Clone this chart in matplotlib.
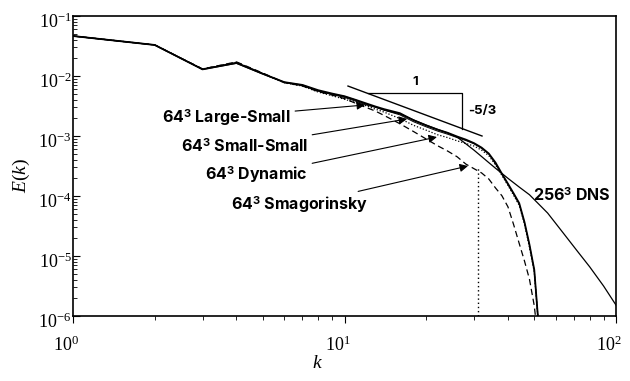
import matplotlib
matplotlib.use("Agg")
import matplotlib.pyplot as plt
from matplotlib.transforms import ScaledTranslation

plt.rcParams['mathtext.fontset'] = 'custom'
plt.rcParams['mathtext.rm'] = 'Liberation Serif'
plt.rcParams['mathtext.it'] = 'Liberation Serif:italic'
plt.rcParams['mathtext.bf'] = 'Inter:bold'
plt.rcParams['font.family'] = ['Inter', 'DejaVu Sans']

# wavenumbers and spectra
k_dns = [1, 2, 3, 4, 5, 6, 7, 8, 9, 10, 11, 12, 13, 14, 16, 18, 20, 22, 24, 26, 28, 30,
         32, 34, 36, 40, 44, 48, 56, 64, 72, 80, 90, 100]
E_dns = [0.0464, 0.0329, 0.0129, 0.0163, 0.0108, 0.00785, 0.00703, 0.00569, 0.00501, 0.00455,
         0.00395, 0.00341, 0.00305, 0.00270, 0.00233, 0.00185, 0.00152, 0.00129, 0.00112, 0.00096,
         0.00074, 0.00058, 0.000454, 0.000360, 0.000290, 0.000197, 0.000141, 0.000105, 5.2e-5,
         2.4e-5, 1.21e-5, 6.6e-6, 3.16e-6, 1.52e-6]

k_les = [1, 2, 3, 4, 5, 6, 7, 8, 9, 10, 11, 12, 13, 14, 16, 18, 20, 22, 24, 26, 28, 30,
         32, 34, 36, 38, 40, 42, 44, 46, 48, 50, 52]
E_large_small = [0.0464, 0.0329, 0.0129, 0.0165, 0.0109, 0.0079, 0.0071, 0.0058, 0.0051, 0.0046,
                 0.0040, 0.0035, 0.0031, 0.0028, 0.00240, 0.00182, 0.00150, 0.00128, 0.00113, 0.00098,
                 0.00087, 0.00076, 0.00064, 0.00051, 0.00036, 0.000235, 0.000160, 0.000110, 7.6e-5,
                 3.7e-5, 1.55e-5, 5.9e-6, 6e-7]
E_small_small = [0.0464, 0.0329, 0.0130, 0.0168, 0.0110, 0.0078, 0.0069, 0.0056, 0.0049, 0.0044,
                 0.0038, 0.0033, 0.0030, 0.0027, 0.00225, 0.00172, 0.00142, 0.00121, 0.00107, 0.00094,
                 0.00084, 0.00074, 0.00062, 0.00050, 0.00034, 0.00023, 0.000155, 0.000107, 7.3e-5,
                 3.6e-5, 1.5e-5, 5.7e-6, 6e-7]
E_dynamic = [0.0464, 0.0329, 0.0131, 0.0170, 0.0110, 0.0077, 0.0068, 0.0054, 0.0047, 0.0041,
             0.0036, 0.0032, 0.0028, 0.0025, 0.00195, 0.00150, 0.00125, 0.00105, 0.00094, 0.00083,
             0.00075, 0.00068, 0.00058, 0.00047, 0.00033, 0.00022, 0.000150, 0.000102, 7.0e-5,
             3.4e-5, 1.4e-5, 5.4e-6, 6e-7]
E_smag = [0.0464, 0.0330, 0.0131, 0.0172, 0.0112, 0.0078, 0.0068, 0.0055, 0.0048, 0.0042,
          0.0035, 0.0030, 0.0026, 0.0022, 0.00160, 0.00118, 0.00089, 0.00069, 0.00056, 0.00045,
          0.00034, 0.000285, 0.000242, 0.000192, 0.000136, 0.000101, 6.6e-5, 3.3e-5, 1.62e-5,
          8.3e-6, 4.1e-6, 1.48e-6, 3e-7]

k_cut = 31
E_cut_top = 3.2e-4

slope_k = [10.3, 32.1]
slope_E = [6.8e-3, 1.0e-3]
tri_k = [12.2, 27.1, 27.1]
tri_E = [5.2e-3, 5.2e-3, 1.33e-3]

ytick_vals = [1e-6, 1e-5, 1e-4, 1e-3, 1e-2, 1e-1]
ytick_labels = [r'$10^{-6}$', r'$10^{-5}$', r'$10^{-4}$', r'$10^{-3}$', r'$10^{-2}$', r'$10^{-1}$']
xtick_vals = [1, 10, 100]
xtick_labels = [r'$10^{0}$', r'$10^{1}$', r'$10^{2}$']

fig = plt.figure(figsize=(6.3, 3.81), dpi=100)
ax = fig.add_axes([73/630, 1-316/381, 543/630, 300/381])

ax.plot(k_dns, E_dns, color='k', lw=0.9)
ax.plot(k_les, E_large_small, color='k', lw=1.3)
ax.plot(k_les, E_small_small, color='k', lw=0.7)
ax.plot(k_les, E_dynamic, color='k', lw=0.9, ls=(0, (1, 1.5)))
ax.plot(k_les, E_smag, color='k', lw=0.9, ls=(0, (5, 3)))
ax.plot([k_cut, k_cut], [1e-6, E_cut_top], color='k', lw=1.0, ls=(0, (1, 2)))

ax.plot(slope_k, slope_E, color='k', lw=1.0)
ax.plot(tri_k, tri_E, color='k', lw=0.9)

ax.set_xscale('log')
ax.set_yscale('log')
ax.set_xlim(1, 100)
ax.set_ylim(1e-6, 1e-1)

ax.set_xticks(xtick_vals)
ax.set_xticklabels(xtick_labels, fontsize=13)
ax.set_yticks(ytick_vals)
ax.set_yticklabels(ytick_labels, fontsize=13)
ax.tick_params(axis='y', which='major', direction='in', length=5, width=0.8, pad=1)
ax.tick_params(axis='y', which='minor', direction='in', length=3, width=0.6)
ax.tick_params(axis='x', which='major', direction='out', length=5, width=0.8, pad=9)
ax.tick_params(axis='x', which='minor', direction='out', length=3, width=0.6)
ax.tick_params(which='both', top=False, right=False)
for lab in ax.get_yticklabels():
    lab.set_transform(lab.get_transform() + ScaledTranslation(0, -4/100, fig.dpi_scale_trans))
for lab in ax.get_xticklabels():
    lab.set_transform(lab.get_transform() + ScaledTranslation(-7/100, 0, fig.dpi_scale_trans))
for s in ax.spines.values():
    s.set_linewidth(1.2)

ax.set_ylabel(r'$E(k)$', fontsize=14)
ax.yaxis.set_label_coords(-0.075, 0.467)
ax.set_xlabel(r'$k$', fontsize=14)
ax.xaxis.set_label_coords(0.451, -0.125)

arrow = dict(arrowstyle='-|>', color='k', lw=0.8, mutation_scale=12, shrinkA=1, shrinkB=0)
tkw = dict(fontsize=11.5, fontweight='bold', ha='right', va='center')
ax.annotate(r'64$^{\mathbf{3}}$ Large-Small', xy=(11.9, 3.29e-3), xytext=(6.35, 2.07e-3), arrowprops=arrow, **tkw)
ax.annotate(r'64$^{\mathbf{3}}$ Small-Small', xy=(17.0, 1.92e-3), xytext=(7.34, 6.8e-4), arrowprops=arrow, **tkw)
ax.annotate(r'64$^{\mathbf{3}}$ Dynamic', xy=(21.9, 9.6e-4), xytext=(7.34, 2.24e-4), arrowprops=arrow, **tkw)
ax.annotate(r'64$^{\mathbf{3}}$ Smagorinsky', xy=(28.5, 3.16e-4), xytext=(12.2, 7.08e-5), arrowprops=arrow, **tkw)
ax.text(49.5, 1.04e-4, r'256$^{\mathbf{3}}$ DNS', fontsize=11.5, fontweight='bold', ha='left', va='center')
ax.text(18.2, 6.3e-3, '1', fontsize=9.5, fontweight='bold', ha='center', va='bottom')
ax.text(28.5, 2.6e-3, '-5/3', fontsize=9.5, fontweight='bold', ha='left', va='center')

fig.savefig('out.png', dpi=100)
